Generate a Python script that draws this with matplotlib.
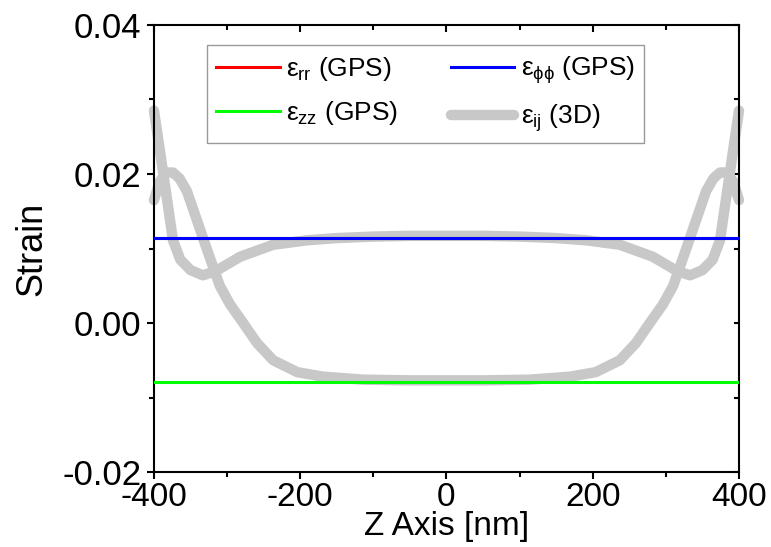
import matplotlib
matplotlib.use("Agg")
import matplotlib.pyplot as plt
from matplotlib.ticker import MultipleLocator

plt.rcParams['font.family'] = ['Liberation Sans', 'DejaVu Sans']
plt.rcParams['mathtext.fontset'] = 'custom'
plt.rcParams['mathtext.rm'] = 'Liberation Sans'
plt.rcParams['mathtext.it'] = 'Liberation Sans'
plt.rcParams['mathtext.bf'] = 'Liberation Sans:bold'
plt.rcParams['axes.unicode_minus'] = False

# GPS (generalized plane strain) constant strains
z_gps = [-400, 400]
eps_rr_gps = [0.0114, 0.0114]
eps_phiphi_gps = [0.0114, 0.0114]
eps_zz_gps = [-0.0079, -0.0079]

# 3D strain profiles along Z
z_3d_a = [-400, -392, -382, -374, -364, -350, -333, -315, -282, -237, -191, -150,
          -100, -50, 0, 50, 100, 150, 191, 237, 282, 315, 333, 350, 364, 374, 382,
          392, 400]
eps_3d_a = [0.0285, 0.0232, 0.0165, 0.0111, 0.0085, 0.0071, 0.0064, 0.0070, 0.0089,
            0.0105, 0.0111, 0.0114, 0.0116, 0.0117, 0.0117, 0.0117, 0.0116, 0.0114,
            0.0111, 0.0105, 0.0089, 0.0070, 0.0064, 0.0071, 0.0085, 0.0111, 0.0165,
            0.0232, 0.0285]

z_3d_b = [-400, -392, -383, -374, -365, -355, -342, -328, -310, -296, -278, -259,
          -237, -204, -169, -114, -50, 0, 50, 114, 169, 204, 237, 259, 278, 296, 310,
          328, 342, 355, 365, 374, 383, 392, 400]
eps_3d_b = [0.0165, 0.0190, 0.0202, 0.0202, 0.0194, 0.0177, 0.0140, 0.0100, 0.0050,
            0.0025, 0.0000, -0.0027, -0.0050, -0.0066, -0.0072, -0.0076, -0.0077,
            -0.0077, -0.0077, -0.0076, -0.0072, -0.0066, -0.0050, -0.0027, 0.0000,
            0.0025, 0.0050, 0.0100, 0.0140, 0.0177, 0.0194, 0.0202, 0.0202, 0.0190,
            0.0165]

labels = [r'$\varepsilon_{rr}$ (GPS)', r'$\varepsilon_{zz}$ (GPS)',
          r'$\varepsilon_{\phi\phi}$ (GPS)', r'$\varepsilon_{ij}$ (3D)']

fig = plt.figure(figsize=(7.71, 5.47), dpi=100)
ax = fig.add_axes([0.1997, 0.1371, 0.7588, 0.8172])

gray = '#C8C8C8'
l3d, = ax.plot(z_3d_a, eps_3d_a, color=gray, lw=7.5, solid_capstyle='round',
               solid_joinstyle='round', clip_on=False, zorder=2)
ax.plot(z_3d_b, eps_3d_b, color=gray, lw=7.5, solid_capstyle='round',
        solid_joinstyle='round', clip_on=False, zorder=2)
lrr, = ax.plot(z_gps, eps_rr_gps, color='#FF0000', lw=2.2, zorder=3)
lpp, = ax.plot(z_gps, eps_phiphi_gps, color='#0000FF', lw=2.2, zorder=4)
lzz, = ax.plot(z_gps, eps_zz_gps, color='#00FF00', lw=2.2, zorder=4)

ax.set_xlim(-400, 400)
ax.set_ylim(-0.02, 0.04)
ax.xaxis.set_major_locator(MultipleLocator(200))
ax.xaxis.set_minor_locator(MultipleLocator(100))
ax.yaxis.set_major_locator(MultipleLocator(0.02))
ax.yaxis.set_minor_locator(MultipleLocator(0.01))
ax.yaxis.set_major_formatter(plt.FuncFormatter(lambda v, p: f'{v:.2f}'))

for s in ax.spines.values():
    s.set_linewidth(1.5)

ax.tick_params(axis='both', which='major', direction='out', length=5, width=1.5,
               labelsize=24, pad=2)
ax.tick_params(axis='both', which='minor', direction='out', length=3.5, width=1.5)
ax.tick_params(axis='y', which='major', pad=4, labelsize=25)
ax.tick_params(top=True, right=True, which='both')
# inward ticks on top and right
for t in ax.xaxis.get_major_ticks() + ax.xaxis.get_minor_ticks():
    t.tick2line.set_marker(3)
for t in ax.yaxis.get_major_ticks() + ax.yaxis.get_minor_ticks():
    t.tick2line.set_marker(0)
    t.tick2line.set_markersize(3.5)

ax.set_xlabel('Z Axis [nm]', fontsize=24, labelpad=-1)
ax.set_ylabel('Strain', fontsize=26, labelpad=9)

leg = ax.legend([lrr, lzz, lpp, l3d], labels, ncol=2, loc='upper left',
                bbox_to_anchor=(0.091, 0.955), borderaxespad=0, fontsize=19,
                frameon=True, fancybox=False, edgecolor='#808080',
                handlelength=2.4, handletextpad=0.25, columnspacing=2.0,
                labelspacing=0.62, borderpad=0.35)
leg.get_frame().set_linewidth(1.0)

fig.savefig('out.png', dpi=100)
